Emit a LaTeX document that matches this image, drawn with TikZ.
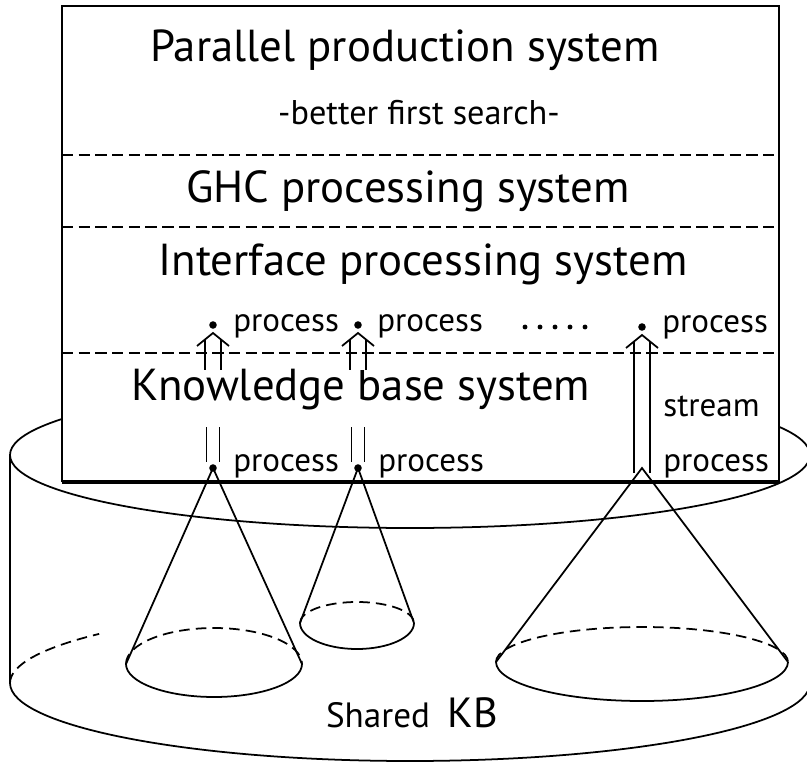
\documentclass[tikz,border=0pt]{standalone}
\usepackage{fontspec}
\setmainfont{PT Sans}
\usetikzlibrary{positioning, calc}

\begin{document}
\begin{tikzpicture}[x=0.02cm, y=0.02cm,
  layer/.style={font=\fontsize{25.5}{30}\selectfont, anchor=base, inner sep=0pt},
  sublabel/.style={font=\fontsize{19.5}{23}\selectfont, anchor=base, inner sep=0pt},
  proc/.style={font=\fontsize{18.8}{22}\selectfont, anchor=base west, inner sep=0pt},
  dot/.style={circle, fill, inner sep=0pt, minimum size=4.3pt},
  sep/.style={dash pattern=on 6.5pt off 3pt, line width=1pt},
  hidden/.style={dash pattern=on 6pt off 3.5pt, line width=1pt},
  shaft/.style={double, double distance=8pt, line width=0.9pt},
  thin/.style={line width=1pt}
]
\useasboundingbox (0,0) rectangle (807,-766);
\clip (0,0) rectangle (807,-766);

% --- Shared KB cylinder ---
\draw[thin] (410,-455) ellipse [x radius=400, y radius=73];
\draw[thin] (10,-455) -- (10,-683) arc[start angle=180, end angle=360, x radius=400, y radius=78];
\draw[hidden] (10,-683) arc[start angle=180, end angle=141, x radius=400, y radius=78];

% --- system box ---
\draw[line width=1.2pt, fill=white] (62,-482) -- (62,-6) -- (779,-6) -- (779,-482);
\draw[line width=2.3pt] (62,-482) -- (779,-482);

\node[layer] (pps) at (405,-62) {Parallel production system};
\node[sublabel] (bfs) at (419,-125) {-better first search-};
\node[layer] (ghc) at (408,-203) {GHC processing system};
\node[layer] (ips) at (423,-276) {Interface processing system};
\node[layer] (kbs) at (361,-400) {Knowledge base system};

% --- processes ---
\node[dot] (pu1) at (213,-325) {};
\node[dot] (pu2) at (358,-325) {};
\node[dot] (pu3) at (642,-327) {};
\node[dot] (pl1) at (213,-468) {};
\node[dot] (pl2) at (358,-468) {};
\node[dot] (pl3) at (642,-468) {};

\node[proc] (tu1) at ($(pu1)+(20,-7)$) {process};
\node[proc] (tu2) at ($(pu2)+(19,-7)$) {process};
\node[proc] (tu3) at ($(pu3)+(20,-6)$) {process};
\node[proc] (tl1) at ($(pl1)+(20,-3)$) {process};
\node[proc] (tl2) at ($(pl2)+(20,-3)$) {process};
\node[proc] (tl3) at ($(pl3)+(21,-3)$) {process};
\node[proc] (strm) at (663,-417) {stream};

\foreach \i in {0,...,4}
  \fill (525+15*\i,-327) circle (1.4pt);

% --- streams between the layers ---
\coordinate (a1) at (213,-370);
\coordinate (a2) at (358,-370);
\draw[shaft] (a1) -- ($(pu1)+(0,-15)$);
\draw[shaft] (a2) -- ($(pu2)+(0,-15)$);
\draw[shaft] ($(pl3)+(0,-5)$) -- ($(pu3)+(0,-15)$);
\draw[shaft, double distance=6.4pt] ($(pl1)+(0,41)$) -- ($(pl1)+(0,6)$);
\draw[shaft, double distance=6.4pt] ($(pl2)+(0,41)$) -- ($(pl2)+(0,6)$);
\foreach \p in {pu1,pu2,pu3}
  \draw[thin] ($(\p)+(-16,-21)$) -- ($(\p)+(0,-8)$) -- ($(\p)+(16,-21)$);

\foreach \y in {155,227,353}
  \draw[sep] (62,-\y) -- (779,-\y);

% --- cones into the shared KB ---
\coordinate (c1l) at (126,-664);
\coordinate (c1r) at (302,-664);
\coordinate (c2l) at (300,-623);
\coordinate (c2r) at (414,-623);
\coordinate (c3l) at (496,-662);
\coordinate (c3r) at (788,-662);
\draw[thin] (c1l) -- (pl1.center) -- (c1r);
\draw[thin] (c2l) -- (pl2.center) -- (c2r);
\draw[thin] (c3l) -- (pl3.center) -- (c3r);
\draw[thin] (c1l) arc[start angle=180, end angle=360, x radius=88, y radius=33];
\draw[hidden] (c1l) arc[start angle=180, end angle=0, x radius=88, y radius=36];
\draw[thin] (c2l) arc[start angle=180, end angle=360, x radius=57, y radius=26];
\draw[hidden] (c2l) arc[start angle=180, end angle=0, x radius=57, y radius=21];
\draw[thin] (c3l) arc[start angle=180, end angle=360, x radius=146, y radius=39];
\draw[hidden] (c3l) arc[start angle=180, end angle=0, x radius=146, y radius=35];

\node[sublabel, font=\fontsize{20}{24}\selectfont] (shared) at (378,-727) {Shared};
\node[sublabel, font=\fontsize{24}{28}\selectfont] (kb) at (473,-727) {KB};

\end{tikzpicture}
\end{document}
